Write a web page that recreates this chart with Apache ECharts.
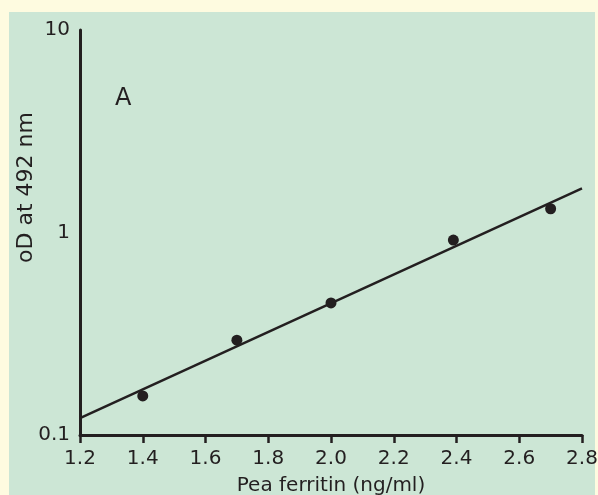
<!DOCTYPE html>
<html>
<head>
<meta charset="utf-8">
<script src="https://cdn.jsdelivr.net/npm/echarts@6/dist/echarts.min.js"></script>
<style>
  html, body { margin: 0; padding: 0; }
  #wrap { position: relative; width: 598px; height: 495px; background: #fefbe0; overflow: hidden; }
  #panel { position: absolute; left: 9px; top: 12px; width: 586px; height: 483px; background: #cce6d5; }
  #chart { position: absolute; left: 0; top: 0; width: 598px; height: 495px; }
</style>
</head>
<body>
<div id="wrap"><div id="panel"></div><div id="chart"></div></div>
<script>
// Standard curve: pea ferritin concentration vs optical density at 492 nm
const ferritin = [1.4, 1.7, 2.0, 2.39, 2.7];
const opticalDensity = [0.156, 0.294, 0.449, 0.918, 1.31];

// Fitted regression line end points
const fitX = [1.2, 2.8];
const fitY = [0.121, 1.65];

const xTicks = { min: 1.2, max: 2.8, step: 0.2 };
const yTicks = { min: 0.1, max: 10 };

const ink = '#231f20';
const font = 'DejaVu Sans';

const chart = echarts.init(document.getElementById('chart'));

chart.setOption({
  animation: false,
  grid: { left: 80, right: 16, top: 30, bottom: 60, containLabel: false, outerBoundsMode: 'none' },
  xAxis: {
    type: 'value',
    min: xTicks.min,
    max: xTicks.max,
    interval: xTicks.step,
    name: 'Pea ferritin (ng/ml)',
    nameLocation: 'middle',
    nameGap: 41,
    nameMoveOverlap: false,
    nameTextStyle: { fontFamily: font, fontSize: 20, color: ink },
    axisLine: { lineStyle: { color: ink, width: 3 } },
    axisTick: { show: true, inside: false, length: 8, lineStyle: { color: ink, width: 2.5 } },
    axisLabel: {
      fontFamily: font, fontSize: 20, color: ink, margin: 14,
      formatter: v => v.toFixed(1)
    },
    splitLine: { show: false }
  },
  yAxis: {
    type: 'log',
    logBase: 10,
    min: yTicks.min,
    max: yTicks.max,
    name: 'oD at 492 nm',
    nameLocation: 'middle',
    nameGap: 43,
    nameRotate: 90,
    nameMoveOverlap: false,
    nameTextStyle: { fontFamily: font, fontSize: 22, color: ink, padding: [0, 0, 0, 90] },
    axisLine: { show: true, lineStyle: { color: ink, width: 3 } },
    axisTick: { show: false },
    axisLabel: {
      fontFamily: font, fontSize: 20, color: ink, margin: 10,
      formatter: v => (v < 1 ? v.toFixed(1) : String(Math.round(v)))
    },
    splitLine: { show: false }
  },
  graphic: [
    {
      type: 'text',
      left: 115,
      top: 87,
      style: { text: 'A', font: '24px "DejaVu Sans"', fill: ink }
    }
  ],
  series: [
    {
      type: 'line',
      data: fitX.map((x, i) => [x, fitY[i]]),
      showSymbol: false,
      symbol: 'none',
      lineStyle: { color: ink, width: 2.5 },
      z: 2
    },
    {
      type: 'scatter',
      data: ferritin.map((x, i) => [x, opticalDensity[i]]),
      symbol: 'circle',
      symbolSize: 11,
      itemStyle: { color: ink, opacity: 1 },
      z: 3
    }
  ]
});
</script>
</body>
</html>
